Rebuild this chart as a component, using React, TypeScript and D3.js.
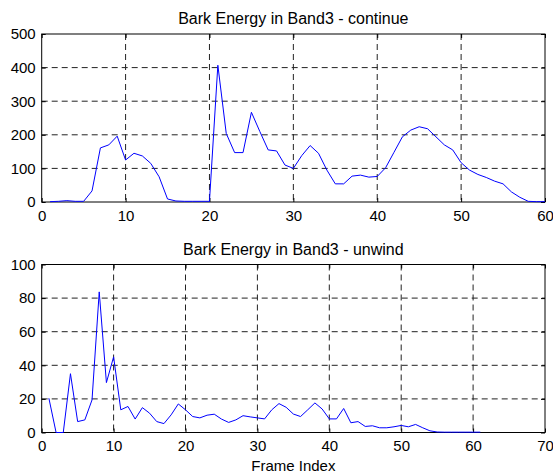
import React, { useEffect, useRef } from "react";
import * as d3 from "d3";

const width = 553;
const height = 474;

// top panel: Band3 - continue
const contFrames = [
  1, 2, 3, 4, 5, 6, 7, 8, 9, 10, 11, 12, 13, 14, 15, 16, 17, 18, 19, 20,
  21, 22, 23, 24, 25, 26, 27, 28, 29, 30, 31, 32, 33, 34, 35, 36, 37, 38, 39, 40,
  41, 42, 43, 44, 45, 46, 47, 48, 49, 50, 51, 52, 53, 54, 55, 56, 57, 58, 59, 60,
];
const contEnergy = [
  1, 2, 4, 2, 2, 33, 161, 170, 196, 125, 145, 137, 115, 75, 9, 3, 2, 2, 2, 2,
  407, 204, 147, 147, 267, 210, 155, 152, 110, 100, 138, 168, 145, 95, 54, 54, 77, 80, 74, 76,
  102, 148, 194, 214, 224, 218, 194, 170, 155, 117, 95, 82, 73, 62, 54, 30, 14, 2, 1, 1,
];

// bottom panel: Band3 - unwind
const unwFrames = [
  1, 2, 3, 4, 5, 6, 7, 8, 9, 10, 11, 12, 13, 14, 15, 16, 17, 18, 19, 20,
  21, 22, 23, 24, 25, 26, 27, 28, 29, 30, 31, 32, 33, 34, 35, 36, 37, 38, 39, 40,
  41, 42, 43, 44, 45, 46, 47, 48, 49, 50, 51, 52, 53, 54, 55, 56, 57, 58, 59, 60, 61,
];
const unwEnergy = [
  20.4, 0, 0, 35, 6.5, 7.5, 19.4, 83.7, 29.7, 45, 13.5, 15.5, 8, 14.8, 11.5, 6.5, 5.3, 10.5, 17, 13.5,
  9.5, 8.7, 10.3, 10.9, 8, 6, 7.5, 10, 9.3, 8.7, 8.1, 13.5, 17.2, 15, 11, 9.5, 13.5, 17.6, 14, 8.1,
  8.1, 14.3, 5.8, 6.5, 3.6, 4, 2.8, 2.8, 3.4, 4.2, 3.4, 4.8, 2.8, 1, 0.3, 0.2, 0.2, 0.2, 0.2, 0.2, 0.2,
];

const contXTicks = [0, 10, 20, 30, 40, 50, 60];
const contYTicks = [0, 100, 200, 300, 400, 500];
const unwXTicks = [0, 10, 20, 30, 40, 50, 60, 70];
const unwYTicks = [0, 20, 40, 60, 80, 100];

const panels = [
  {
    title: "Bark Energy in Band3 - continue",
    xs: contFrames, ys: contEnergy,
    xDomain: [0, 60], yDomain: [0, 500],
    xTicks: contXTicks, yTicks: contYTicks,
    top: 34, bottom: 202,
  },
  {
    title: "Bark Energy in Band3 - unwind",
    xs: unwFrames, ys: unwEnergy,
    xDomain: [0, 70], yDomain: [0, 100],
    xTicks: unwXTicks, yTicks: unwYTicks,
    top: 264.5, bottom: 432.5,
  },
];

const left = 41.7;
const right = 545;
const font = "'Liberation Sans', Arial, sans-serif";

export default function App() {
  const ref = useRef<SVGSVGElement>(null);

  useEffect(() => {
    const svg = d3.select(ref.current);
    svg.selectAll("*").remove();

    panels.forEach((p) => {
      const x = d3.scaleLinear().domain(p.xDomain).range([left, right]);
      const y = d3.scaleLinear().domain(p.yDomain).range([p.bottom, p.top]);
      const g = svg.append("g");

      // dashed grid
      g.selectAll(".vgrid")
        .data(p.xTicks.slice(1, -1))
        .join("line")
        .attr("x1", (d) => x(d)).attr("x2", (d) => x(d))
        .attr("y1", p.top).attr("y2", p.bottom)
        .attr("stroke", "#222").attr("stroke-width", 1)
        .attr("stroke-dasharray", "6,4");
      g.selectAll(".hgrid")
        .data(p.yTicks.slice(1, -1))
        .join("line")
        .attr("x1", left).attr("x2", right)
        .attr("y1", (d) => y(d)).attr("y2", (d) => y(d))
        .attr("stroke", "#222").attr("stroke-width", 1)
        .attr("stroke-dasharray", "6,4");

      const styleAxis = (a: any) => {
        a.select(".domain").remove();
        a.selectAll("text").attr("font-family", font).attr("font-size", 15).attr("fill", "#000");
        a.selectAll("line").attr("stroke", "#000");
      };

      g.append("g")
        .attr("transform", `translate(0,${p.bottom})`)
        .call(d3.axisBottom(x).tickValues(p.xTicks).tickSize(-4).tickPadding(8).tickFormat(d3.format("d")))
        .call(styleAxis);
      g.append("g")
        .attr("transform", `translate(0,${p.top})`)
        .call(d3.axisTop(x).tickValues(p.xTicks).tickSize(-4).tickFormat(() => ""))
        .call(styleAxis);
      g.append("g")
        .attr("transform", `translate(${left},0)`)
        .call(d3.axisLeft(y).tickValues(p.yTicks).tickSize(-4).tickPadding(6).tickFormat(d3.format("d")))
        .call(styleAxis);
      g.append("g")
        .attr("transform", `translate(${right},0)`)
        .call(d3.axisRight(y).tickValues(p.yTicks).tickSize(-4).tickFormat(() => ""))
        .call(styleAxis);

      // frame
      g.append("rect")
        .attr("x", left).attr("y", p.top)
        .attr("width", right - left).attr("height", p.bottom - p.top)
        .attr("fill", "none").attr("stroke", "#000").attr("stroke-width", 1);

      const pts = p.xs.map((v, i) => [v, p.ys[i]] as [number, number]);
      g.append("path")
        .datum(pts)
        .attr("fill", "none")
        .attr("stroke", "#0000ff")
        .attr("stroke-width", 1)
        .attr("stroke-linejoin", "round")
        .attr("d", d3.line<[number, number]>().x((d) => x(d[0])).y((d) => y(d[1])));

      g.append("text")
        .attr("x", (left + right) / 2).attr("y", p.top - 10)
        .attr("text-anchor", "middle")
        .attr("font-family", font).attr("font-size", 16)
        .text(p.title);
    });

    svg.append("text")
      .attr("x", (left + right) / 2).attr("y", 471)
      .attr("text-anchor", "middle")
      .attr("font-family", font).attr("font-size", 15)
      .text("Frame Index");
  }, []);

  return (
    <svg
      ref={ref}
      width={width}
      height={height}
      style={{ position: "absolute", left: 0, top: 0, background: "#fff" }}
    />
  );
}
